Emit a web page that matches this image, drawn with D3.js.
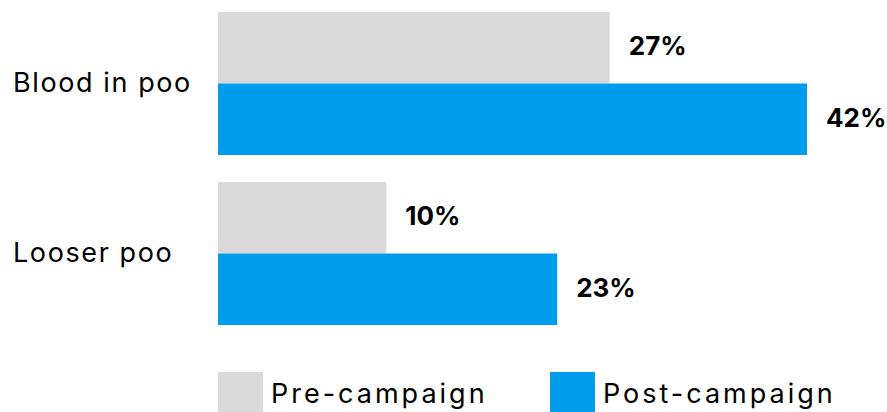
<!DOCTYPE html>
<html>
<head>
<meta charset="utf-8">
<script src="https://cdn.jsdelivr.net/npm/d3@7"></script>
<style>
  body { margin: 0; background: #fff; }
  text { font-family: Inter, "DejaVu Sans", sans-serif; fill: #000; }
</style>
</head>
<body>
<script>
var categories = ['Blood in poo', 'Looser poo'];
var seriesNames = ['Pre-campaign', 'Post-campaign'];
var preValues = [27, 10];
var postValues = [42, 23];
var colors = ['#d9d9d9', '#019ded'];

var w = 887;
var h = 412;

var rows = categories.map(function(c, i) {
  return { cat: c, vals: [preValues[i], postValues[i]] };
});

var svg = d3.select('body').append('svg')
  .attr('width', w)
  .attr('height', h);

var x = d3.scaleLinear().domain([-2.8, 42]).range([218, 807]);

var y = d3.scaleBand().domain(categories).range([12, 325])
  .paddingInner(0.159).paddingOuter(0);

var ySub = d3.scaleBand().domain(seriesNames).range([0, y.bandwidth()]);

var g = svg.selectAll('g.row')
  .data(rows)
  .enter().append('g')
  .attr('class', 'row')
  .attr('transform', function(d) { return `translate(0,${y(d.cat)})`; });

g.append('text')
  .attr('x', 13)
  .attr('y', y.bandwidth()/2 + 8.5)
  .style('font-size', '27px')
  .style('letter-spacing', '1.6px')
  .text(function(d) { return d.cat; });

var bars = g.selectAll('g.bar')
  .data(function(d) { return d.vals.map(function(v, i) { return { v: v, s: seriesNames[i], i: i }; }); })
  .enter().append('g');

bars.append('rect')
  .attr('x', x.range()[0])
  .attr('y', function(d) { return ySub(d.s); })
  .attr('width', function(d) { return x(d.v) - x.range()[0]; })
  .attr('height', ySub.bandwidth())
  .attr('fill', function(d) { return colors[d.i]; });

bars.append('text')
  .attr('x', function(d) { return x(d.v) + 19; })
  .attr('y', function(d) { return ySub(d.s) + ySub.bandwidth()/2 + 7.5; })
  .style('font-size', '26px')
  .style('font-weight', 'bold')
  .text(function(d) { return d.v + '%'; });

// legend
var legX = [218, 550];
var leg = svg.selectAll('g.leg')
  .data(seriesNames)
  .enter().append('g')
  .attr('class', 'leg')
  .attr('transform', function(d, i) { return `translate(${legX[i]},372)`; });

leg.append('rect')
  .attr('width', 45)
  .attr('height', 45)
  .attr('fill', function(d, i) { return colors[i]; });

leg.append('text')
  .attr('x', 53)
  .attr('y', 31)
  .style('font-size', '27px')
  .style('letter-spacing', '3px')
  .text(function(d) { return d; });
</script>
</body>
</html>
